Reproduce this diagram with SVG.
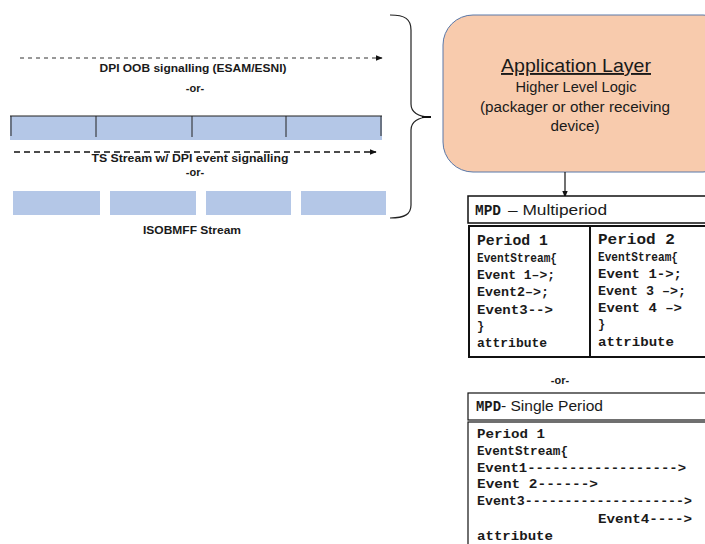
<svg xmlns="http://www.w3.org/2000/svg" width="705" height="544" viewBox="0 0 705 544">
<style>
.sans{font-family:"Liberation Sans","DejaVu Sans",sans-serif;fill:#1a1a1a}
.mono{font-family:"Liberation Mono","Courier New",monospace;fill:#1a1a1a;font-weight:bold}
.lbl{font-size:11px;font-weight:bold}
.seg{fill:#B4C7E7}
.box{fill:#fff;stroke:#111}
.code{font-size:12px}
</style>
<defs>
<marker id="ah" viewBox="0 0 10 10" refX="9" refY="5" markerWidth="7" markerHeight="7" orient="auto" markerUnits="userSpaceOnUse"><path d="M0,1 L10,5 L0,9 z" fill="#111"/></marker>
</defs>

<g id="oob-signalling">
<text class="sans lbl" x="193" y="72" text-anchor="middle" textLength="187" lengthAdjust="spacingAndGlyphs">DPI OOB signalling (ESAM/ESNI)</text>
<text class="sans lbl" x="195" y="92" text-anchor="middle">-or-</text>
</g>

<g id="ts-stream">
<rect class="seg" x="10" y="116" width="372" height="24"/>
<line x1="10" y1="116" x2="382" y2="116" stroke="#222" stroke-width="1.2"/>
<line x1="11" y1="116" x2="11" y2="136" stroke="#222"/>
<line x1="96" y1="116" x2="96" y2="137" stroke="#222"/>
<line x1="192" y1="116" x2="192" y2="137" stroke="#222"/>
<line x1="286" y1="116" x2="286" y2="137" stroke="#222"/>
<line x1="381" y1="116" x2="381" y2="136" stroke="#222"/>
<text class="sans lbl" x="190" y="162" text-anchor="middle" textLength="197" lengthAdjust="spacingAndGlyphs">TS Stream w/ DPI event signalling</text>
<text class="sans lbl" x="195" y="176" text-anchor="middle">-or-</text>
</g>

<g id="isobmff-stream">
<rect class="seg" x="13" y="191" width="87" height="24"/>
<rect class="seg" x="110" y="191" width="86" height="24"/>
<rect class="seg" x="206" y="191" width="85" height="24"/>
<rect class="seg" x="301" y="191" width="85" height="24"/>
<text class="sans lbl" x="192" y="234" text-anchor="middle" textLength="98" lengthAdjust="spacingAndGlyphs">ISOBMFF Stream</text>
</g>

<g id="brace">
<path d="M390,15 C405,15 411,19 411,30 L411,104 C411,112 418,117 430,117 C418,117 411,122 411,130 L411,205 C411,214 405,218 390,218" fill="none" stroke="#222" stroke-width="1.2"/>
<line x1="422" y1="117" x2="431" y2="117" stroke="#111" stroke-width="2"/>
</g>

<g id="application-layer">
<rect x="443" y="15" width="290" height="157" rx="30" ry="30" fill="#F8CBAD" stroke="#5A78A8" stroke-width="1"/>
<text class="sans" x="576" y="72" text-anchor="middle" font-size="19" textLength="150" lengthAdjust="spacingAndGlyphs" text-decoration="underline">Application Layer</text>
<text class="sans" x="576" y="92" text-anchor="middle" font-size="14" textLength="121" lengthAdjust="spacingAndGlyphs">Higher Level Logic</text>
<text class="sans" x="575" y="112" text-anchor="middle" font-size="14" textLength="190" lengthAdjust="spacingAndGlyphs">(packager or other receiving</text>
<text class="sans" x="575" y="131" text-anchor="middle" font-size="14" textLength="49" lengthAdjust="spacingAndGlyphs">device)</text>
</g>

<g id="connectors">
<line x1="20" y1="58" x2="382" y2="58" stroke="#333" stroke-width="1" stroke-dasharray="4,4" marker-end="url(#ah)"/>
<line x1="14" y1="152" x2="376" y2="152" stroke="#111" stroke-width="1.5" stroke-dasharray="6,4" marker-end="url(#ah)"/>
<line x1="565" y1="172" x2="565" y2="197" stroke="#111" stroke-width="1.2" marker-end="url(#ah)"/>
</g>

<g id="mpd-multiperiod">
<rect class="box" x="468" y="196" width="250" height="27" stroke-width="1.5"/>
<text x="475" y="215" class="mono" font-size="14" font-weight="900" textLength="26" lengthAdjust="spacingAndGlyphs">MPD</text>
<text x="508" y="215" class="sans" font-size="14" textLength="99" lengthAdjust="spacingAndGlyphs">– Multiperiod</text>
</g>

<g id="period-1">
<rect class="box" x="469" y="226" width="121" height="131" stroke-width="2"/>
<text class="mono" x="477" y="245" font-size="15" textLength="71" lengthAdjust="spacingAndGlyphs">Period 1</text>
<text class="mono code" x="477" y="262" textLength="80" lengthAdjust="spacingAndGlyphs">EventStream{</text>
<text class="mono code" x="477" y="279" textLength="78" lengthAdjust="spacingAndGlyphs">Event 1–&gt;;</text>
<text class="mono code" x="477" y="296" textLength="72" lengthAdjust="spacingAndGlyphs">Event2–&gt;;</text>
<text class="mono code" x="477" y="314" textLength="76" lengthAdjust="spacingAndGlyphs">Event3--&gt;</text>
<text class="mono code" x="477" y="330">}</text>
<text class="mono code" x="477" y="347" textLength="70" lengthAdjust="spacingAndGlyphs">attribute</text>
</g>

<g id="period-2">
<rect class="box" x="590" y="226" width="130" height="131" stroke-width="2"/>
<text class="mono" x="598" y="244" font-size="15" textLength="77" lengthAdjust="spacingAndGlyphs">Period 2</text>
<text class="mono code" x="598" y="261" textLength="80" lengthAdjust="spacingAndGlyphs">EventStream{</text>
<text class="mono code" x="598" y="278" textLength="84" lengthAdjust="spacingAndGlyphs">Event 1-&gt;;</text>
<text class="mono code" x="598" y="295" textLength="88" lengthAdjust="spacingAndGlyphs">Event 3 –&gt;;</text>
<text class="mono code" x="598" y="312" textLength="84" lengthAdjust="spacingAndGlyphs">Event 4 –&gt;</text>
<text class="mono code" x="598" y="328">}</text>
<text class="mono code" x="598" y="346" textLength="76" lengthAdjust="spacingAndGlyphs">attribute</text>
</g>

<g id="or-label">
<text class="sans lbl" x="560" y="384" text-anchor="middle">-or-</text>
</g>

<g id="mpd-single-period">
<rect class="box" x="468" y="393" width="250" height="27" stroke-width="1.2"/>
<text x="476" y="411" class="mono" font-size="14" font-weight="900" textLength="25" lengthAdjust="spacingAndGlyphs">MPD</text>
<text x="501" y="411" class="sans" font-size="14" textLength="102" lengthAdjust="spacingAndGlyphs">- Single Period</text>
<rect class="box" x="468" y="422" width="250" height="140" stroke-width="1.2"/>
<text class="mono code" x="477" y="438" textLength="68" lengthAdjust="spacingAndGlyphs">Period 1</text>
<text class="mono code" x="477" y="455" textLength="91" lengthAdjust="spacingAndGlyphs">EventStream{</text>
<text class="mono code" x="477" y="472" textLength="209" lengthAdjust="spacingAndGlyphs">Event1------------------&gt;</text>
<text class="mono code" x="477" y="488" textLength="121" lengthAdjust="spacingAndGlyphs">Event 2------&gt;</text>
<text class="mono code" x="477" y="505" textLength="215" lengthAdjust="spacingAndGlyphs">Event3--------------------&gt;</text>
<text class="mono code" x="598" y="523" textLength="94" lengthAdjust="spacingAndGlyphs">Event4----&gt;</text>
<text class="mono code" x="477" y="540" textLength="76" lengthAdjust="spacingAndGlyphs">attribute</text>
</g>
</svg>
